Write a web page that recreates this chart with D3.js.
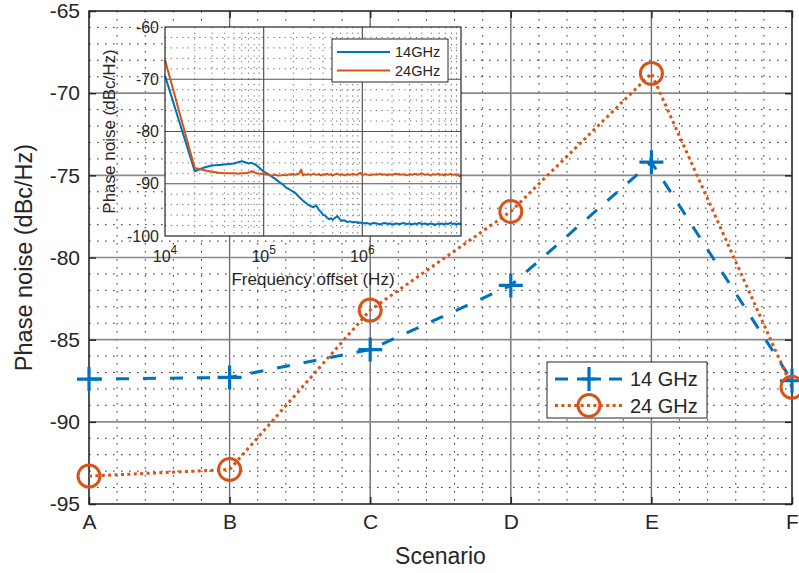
<!DOCTYPE html>
<html><head><meta charset="utf-8">
<script src="https://cdn.jsdelivr.net/npm/d3@7"></script>
<style>
body{margin:0;background:#fff;}
text{font-family:"Liberation Sans",Arial,Helvetica,sans-serif;fill:#262626;}
</style></head>
<body><svg id="c" width="799" height="573"></svg>
<script>
// ---------- main chart data ----------
const scenarios = ["A","B","C","D","E","F"];
const pn14 = [-87.4,-87.3,-85.6,-81.7,-74.2,-87.5];
const pn24 = [-93.3,-92.9,-83.2,-77.2,-68.8,-87.9];
const yTicks = [-95,-90,-85,-80,-75,-70,-65];
const seriesNames = ["14 GHz","24 GHz"];

// ---------- inset data ----------
const insetFreq = [1e4,2e4,2.5e4,3e4,3.5e4,4e4,4.5e4,5e4,5.5e4,6e4,6.5e4,7e4,7.5e4,8e4,8.5e4,9e4,9.5e4,1e5,
1.1e5,1.2e5,1.3e5,1.4e5,1.5e5,1.6e5,1.7e5,1.8e5,1.9e5,2.0e5,2.1e5,2.2e5,2.3e5,2.4e5,2.5e5,2.6e5,2.7e5,2.8e5,
3.0e5,3.2e5,3.4e5,3.6e5,3.8e5,4.0e5,4.2e5,4.4e5,4.6e5,4.8e5,5.0e5,5.3e5,5.6e5,5.9e5,6.2e5,6.6e5,7.0e5,7.5e5,
8.0e5,8.5e5,9.0e5,9.5e5,1.0e6,1.1e6,1.2e6,1.3e6,1.4e6,1.5e6,1.6e6,1.7e6,1.8e6,1.9e6,2.0e6,2.2e6,2.4e6,2.6e6,
2.8e6,3.0e6,3.2e6,3.4e6,3.6e6,3.8e6,4.0e6,4.3e6,4.6e6,4.9e6,5.2e6,5.5e6,5.8e6,6.1e6,6.4e6,6.7e6,7.0e6,7.4e6,
7.8e6,8.2e6,8.6e6,9.0e6,9.4e6,9.7e6,1.0e7];
const inset14 = [-69.3,-87.6,-86.9,-86.5,-86.4,-86.3,-86.2,-86.1,-85.9,-85.7,-85.9,-86.1,-86.0,-86.2,-86.5,-86.9,-87.3,-87.7,
-88.1,-88.6,-89.0,-89.5,-89.9,-90.3,-90.8,-91.0,-91.3,-91.5,-91.8,-92.2,-92.6,-92.9,-93.2,-93.5,-93.7,-94.0,
-94.3,-94.5,-94.1,-94.9,-95.4,-95.9,-96.1,-96.5,-96.8,-96.6,-96.9,-96.5,-96.2,-96.8,-97.1,-97.0,-97.3,-97.2,
-97.4,-97.3,-97.5,-97.4,-97.6,-97.5,-97.7,-97.5,-97.6,-97.8,-97.6,-97.5,-97.7,-97.6,-97.8,-97.6,-97.7,-97.5,
-97.7,-97.6,-97.8,-97.6,-97.7,-97.5,-97.7,-97.6,-97.8,-97.6,-97.7,-97.9,-97.6,-97.7,-97.6,-97.8,-97.6,-97.7,
-97.5,-97.7,-97.6,-97.8,-97.6,-97.7,-97.6];
const inset24 = [-66.3,-87.0,-87.4,-87.7,-87.9,-88.0,-88.0,-88.0,-88.1,-88.0,-88.0,-87.9,-87.6,-87.8,-88.0,-88.1,-88.1,-88.2,
-88.3,-88.4,-88.3,-88.4,-88.4,-88.3,-88.4,-88.2,-88.3,-88.1,-88.3,-88.2,-88.0,-87.3,-88.4,-88.2,-88.3,-88.2,
-88.3,-88.1,-88.3,-88.2,-88.4,-88.2,-88.3,-88.1,-88.3,-88.2,-88.4,-88.2,-88.1,-88.3,-88.2,-88.4,-88.2,-88.3,
-88.1,-88.3,-88.2,-87.9,-88.3,-88.2,-88.4,-88.2,-88.3,-88.1,-88.3,-88.2,-88.4,-88.2,-88.3,-88.1,-88.3,-88.2,
-88.4,-88.2,-88.3,-88.1,-88.3,-88.2,-88.0,-88.3,-88.2,-88.4,-88.2,-88.3,-88.1,-88.3,-88.2,-88.4,-88.2,-88.3,
-88.1,-88.3,-88.2,-88.4,-88.2,-88.6,-88.3];
const insetYTicks = [-100,-90,-80,-70,-60];
const insetXTicks = [1e4,1e5,1e6];
const insetNames = ["14GHz","24GHz"];

const BLUE = "#0072BD", ORANGE = "#D95319", AX = "#262626";
const svg = d3.select("#c");

// ---------- main axes ----------
const L=89, R=792, T=11, B=504;
const x = d3.scalePoint().domain(scenarios).range([L,R]);
const xi = d3.scaleLinear().domain([0,5]).range([L,R]);
const y = d3.scaleLinear().domain([-95,-65]).range([B,T]);

const g = svg.append("g");
const DOT = "1.6,6.4";
// minor grid
const xMinor = d3.range(0,5.0001,0.2).filter(v=>Math.abs(v-Math.round(v))>1e-6);
g.selectAll(".xmin").data(xMinor).enter().append("line")
  .attr("x1",d=>xi(d)).attr("x2",d=>xi(d)).attr("y1",T).attr("y2",B)
  .attr("stroke","#333").attr("stroke-width",1).attr("stroke-dasharray",DOT);
const yMinor = d3.range(-95,-64.9,1).filter(v=>v%5!==0);
g.selectAll(".ymin").data(yMinor).enter().append("line")
  .attr("x1",L).attr("x2",R).attr("y1",d=>y(d)).attr("y2",d=>y(d))
  .attr("stroke","#333").attr("stroke-width",1).attr("stroke-dasharray",DOT);
// major grid
g.selectAll(".xmaj").data(scenarios.slice(1,5)).enter().append("line")
  .attr("x1",d=>x(d)).attr("x2",d=>x(d)).attr("y1",T).attr("y2",B)
  .attr("stroke","#6e6e6e").attr("stroke-width",1.4);
g.selectAll(".ymaj").data(yTicks.slice(1,6)).enter().append("line")
  .attr("x1",L).attr("x2",R).attr("y1",d=>y(d)).attr("y2",d=>y(d))
  .attr("stroke","#8a8a8a").attr("stroke-width",1.6);

// axes with D3 axis generators (inner ticks)
const xAxis = d3.axisBottom(x).tickSizeInner(-7).tickSizeOuter(0).tickPadding(18);
const yAxis = d3.axisLeft(y).tickValues(yTicks).tickFormat(d=>String(d)).tickSizeInner(-7).tickSizeOuter(0).tickPadding(9);
const gx = svg.append("g").attr("transform",`translate(0,${B})`).call(xAxis);
const gy = svg.append("g").attr("transform",`translate(${L},0)`).call(yAxis);
[gx,gy].forEach(a=>{
  a.select(".domain").remove();
  a.selectAll("line").attr("stroke",AX).attr("stroke-width",1.5);
  a.selectAll("text").attr("fill",AX).style("font-size","21px");
});
gx.selectAll("text").attr("dy","0.35em");
// top and right ticks
svg.append("g").attr("transform",`translate(0,${T})`).call(d3.axisTop(x).tickSizeInner(-7).tickSizeOuter(0).tickFormat(""))
  .call(a=>{a.select(".domain").remove();a.selectAll("line").attr("stroke",AX).attr("stroke-width",1.5);});
svg.append("g").attr("transform",`translate(${R},0)`).call(d3.axisRight(y).tickValues(yTicks).tickSizeInner(-7).tickSizeOuter(0).tickFormat(""))
  .call(a=>{a.select(".domain").remove();a.selectAll("line").attr("stroke",AX).attr("stroke-width",1.5);});
// box
svg.append("rect").attr("x",L).attr("y",T).attr("width",R-L).attr("height",B-T)
  .attr("fill","none").attr("stroke",AX).attr("stroke-width",1.6);

// axis labels
svg.append("text").attr("x",(L+R)/2).attr("y",564).attr("text-anchor","middle")
  .style("font-size","23px").text("Scenario");
svg.append("text").attr("transform",`translate(32,${(T+B)/2}) rotate(-90)`).attr("text-anchor","middle")
  .style("font-size","23.5px").text("Phase noise (dBc/Hz)");

// ---------- inset ----------
const iL=165, iR=461, iT=27, iB=236;
const ix = d3.scaleLog().domain([1e4,1e7]).range([iL,iR]);
const iy = d3.scaleLinear().domain([-100,-60]).range([iB,iT]);
const ig = svg.append("g");
ig.append("rect").attr("x",iL).attr("y",iT).attr("width",iR-iL).attr("height",iB-iT).attr("fill","#fff");
const ixMinor = [];
[1e4,1e5,1e6].forEach(dec=>{for(let k=2;k<=9;k++) ixMinor.push(dec*k);});
ig.selectAll(".ixm").data(ixMinor).enter().append("line")
  .attr("x1",d=>ix(d)).attr("x2",d=>ix(d)).attr("y1",iT).attr("y2",iB)
  .attr("stroke","#555").attr("stroke-width",0.9).attr("stroke-dasharray","1.2,4.5");
const iyMinor = d3.range(-98,-60,2).filter(v=>v%10!==0);
ig.selectAll(".iym").data(iyMinor).enter().append("line")
  .attr("x1",iL).attr("x2",iR).attr("y1",d=>iy(d)).attr("y2",d=>iy(d))
  .attr("stroke","#555").attr("stroke-width",0.9).attr("stroke-dasharray","1.2,4.5");
ig.selectAll(".ixM").data([1e5,1e6]).enter().append("line")
  .attr("x1",d=>ix(d)).attr("x2",d=>ix(d)).attr("y1",iT).attr("y2",iB)
  .attr("stroke","#555").attr("stroke-width",1.2);
ig.selectAll(".iyM").data([-90,-80,-70]).enter().append("line")
  .attr("x1",iL).attr("x2",iR).attr("y1",d=>iy(d)).attr("y2",d=>iy(d))
  .attr("stroke","#555").attr("stroke-width",1.2);
const iline = d3.line().x(d=>ix(d[0])).y(d=>iy(d[1]));
ig.append("path").datum(insetFreq.map((f,i)=>[f,inset14[i]])).attr("d",iline)
  .attr("fill","none").attr("stroke",BLUE).attr("stroke-width",2).attr("stroke-linejoin","round");
ig.append("path").datum(insetFreq.map((f,i)=>[f,inset24[i]])).attr("d",iline)
  .attr("fill","none").attr("stroke",ORANGE).attr("stroke-width",2).attr("stroke-linejoin","round");
ig.append("rect").attr("x",iL).attr("y",iT).attr("width",iR-iL).attr("height",iB-iT)
  .attr("fill","none").attr("stroke",AX).attr("stroke-width",1.2);
// inset tick labels
ig.selectAll(".iyl").data(insetYTicks).enter().append("text")
  .attr("x",iL-6).attr("y",d=>iy(d)).attr("dy","0.35em").attr("text-anchor","end")
  .style("font-size","16px").text(d=>String(d));
const ixl = ig.selectAll(".ixl").data(insetXTicks).enter().append("text")
  .attr("x",d=>ix(d)).attr("y",iB+26).attr("text-anchor","middle").style("font-size","16px");
ixl.append("tspan").text("10");
ixl.append("tspan").attr("dy",-8).style("font-size","12px").text(d=>Math.round(Math.log10(d)));
ig.append("text").attr("x",(iL+iR)/2).attr("y",iB+49).attr("text-anchor","middle")
  .style("font-size","17px").text("Frequency offset (Hz)");
ig.append("text").attr("transform",`translate(115,${(iT+iB)/2}) rotate(-90)`).attr("text-anchor","middle")
  .style("font-size","17px").text("Phase noise (dBc/Hz)");
// inset legend
const il = ig.append("g");
il.append("rect").attr("x",332).attr("y",39).attr("width",116).attr("height",43)
  .attr("fill","#fff").attr("stroke",AX).attr("stroke-width",1);
insetNames.forEach((n,i)=>{
  const yy = 52 + i*18.5;
  il.append("line").attr("x1",337).attr("x2",390).attr("y1",yy).attr("y2",yy)
    .attr("stroke",i?ORANGE:BLUE).attr("stroke-width",2);
  il.append("text").attr("x",395).attr("y",yy).attr("dy","0.35em").style("font-size","14.5px").text(n);
});

// ---------- main series ----------
const line = d3.line().x((d,i)=>x(scenarios[i])).y(d=>y(d));
svg.append("path").datum(pn14).attr("d",line).attr("fill","none").attr("stroke",BLUE)
  .attr("stroke-width",3).attr("stroke-dasharray","13,14");
svg.append("path").datum(pn24).attr("d",line).attr("fill","none").attr("stroke",ORANGE)
  .attr("stroke-width",3).attr("stroke-dasharray","3,3.4");
function plus(sel,cx,cy){
  sel.append("path").attr("d",`M${cx-12},${cy}H${cx+12}M${cx},${cy-12}V${cy+12}`)
    .attr("stroke",BLUE).attr("stroke-width",3.2).attr("fill","none");
}
function circ(sel,cx,cy){
  sel.append("circle").attr("cx",cx).attr("cy",cy).attr("r",11)
    .attr("stroke",ORANGE).attr("stroke-width",3).attr("fill","none");
}
const mk = svg.append("g");
pn14.forEach((v,i)=>plus(mk,x(scenarios[i]),y(v)));
pn24.forEach((v,i)=>circ(mk,x(scenarios[i]),y(v)));

// main legend
const lg = svg.append("g");
lg.append("rect").attr("x",547).attr("y",362).attr("width",160).attr("height",56)
  .attr("fill","#fff").attr("stroke",AX).attr("stroke-width",1);
seriesNames.forEach((n,i)=>{
  const yy = 379 + i*26.5;
  lg.append("line").attr("x1",555).attr("x2",623).attr("y1",yy).attr("y2",yy)
    .attr("stroke",i?ORANGE:BLUE).attr("stroke-width",3)
    .attr("stroke-dasharray",i?"3,3.4":"13,14");
  if(i) circ(lg,589,yy); else plus(lg,589,yy);
  lg.append("text").attr("x",630).attr("y",yy).attr("dy","0.35em").style("font-size","20px").text(n);
});
</script></body></html>
